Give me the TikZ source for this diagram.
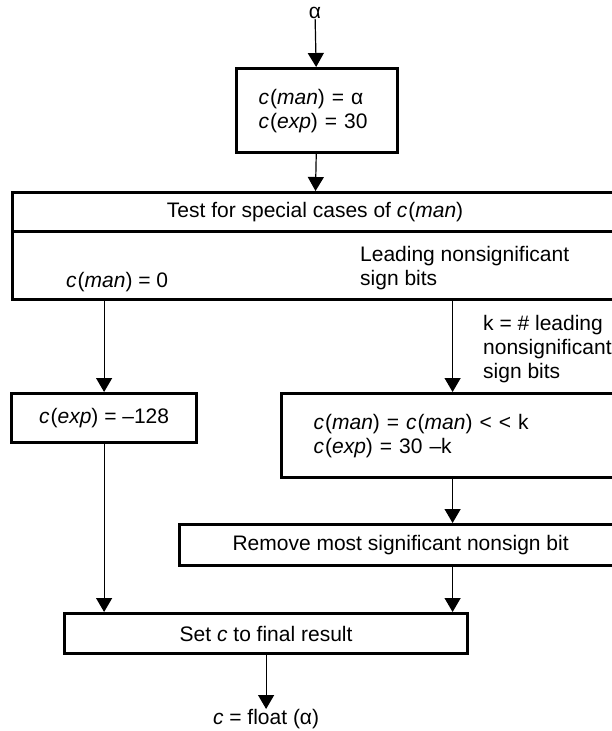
\documentclass[tikz,border=0pt]{standalone}
\usepackage{fontspec}
\setmainfont{Liberation Sans}
\usepackage{tikz}
\usetikzlibrary{arrows.meta,positioning,calc}
\newcommand{\cman}{\textit{c}\kern1pt(\textit{man})}
\newcommand{\cexp}{\textit{c}\kern1pt(\textit{exp})}

\begin{document}
\begin{tikzpicture}[
        x=1pt, y=-1pt,
        font=\fontsize{21pt}{24pt}\selectfont,
        box/.style={draw, line width=3.2pt, anchor=north west, inner sep=0pt},
        lbox/.style={box, align=left, inner xsep=15pt},
        txt/.style={inner sep=0pt, align=left, anchor=west},
        arr/.style={-{Triangle[width=16pt,length=14pt]}, line width=1.2pt}
    ]
        \useasboundingbox (0,0) rectangle (612,731);
        \clip (0,0) rectangle (612,731);

        \node[inner sep=0pt] (alpha) at (315,13) {α};
        \node[lbox, inner xsep=22pt, text width=117pt, minimum width=161pt, minimum height=84pt] (init) at (235,67) {\cman{} = α\\\cexp{} = 30};

        \node[box, minimum width=605pt, minimum height=39pt] (test) at (11,191) {Test for special cases of \cman};
        \node[box, minimum width=605pt, minimum height=68pt] (cases) at (11,230) {};
        \node[txt] (zerolbl) at (66,282) {\cman{} = 0};
        \node[txt] (leadlbl) at (360,268) {Leading nonsignificant\\sign bits};
        \node[txt] (klbl) at (483,349) {k = \# leading\\nonsignificant\\sign bits};

        \node[box, minimum width=185pt, minimum height=49pt] (zero) at (10,392) {\cexp{} = --128};
        \node[lbox, inner xsep=32pt, text width=278pt, minimum width=342pt, minimum height=84pt] (shift) at (280,392) {\cman{} = \cman{} < < k\\\cexp{} = 30 --k\\[-8pt]};

        \node[box, minimum width=442pt, minimum height=41pt] (remove) at (178,523) {Remove most significant nonsign bit};
        \node[box, minimum width=403pt, minimum height=40pt] (set) at (63,612) {Set \textit{c} to final result};
        \node[inner sep=0pt, anchor=north] (result) at (set.south |- 0,709) {\textit{c} = float (α)};

        \draw[arr] (alpha) -- (init);
        \draw[arr] (init) -- (test);
        \draw[arr] (zero.north |- cases.south) -- (zero.north);
        \draw[arr] (shift.north |- cases.south) -- (shift.north);
        \draw[arr] (shift.south) -- (shift.south |- remove.north);
        \draw[arr] (shift.south |- remove.south) -- (shift.south |- set.north);
        \draw[arr] (zero.south) -- (zero.south |- set.north);
        \draw[arr] (set) -- (result);
    \end{tikzpicture}
\end{document}
